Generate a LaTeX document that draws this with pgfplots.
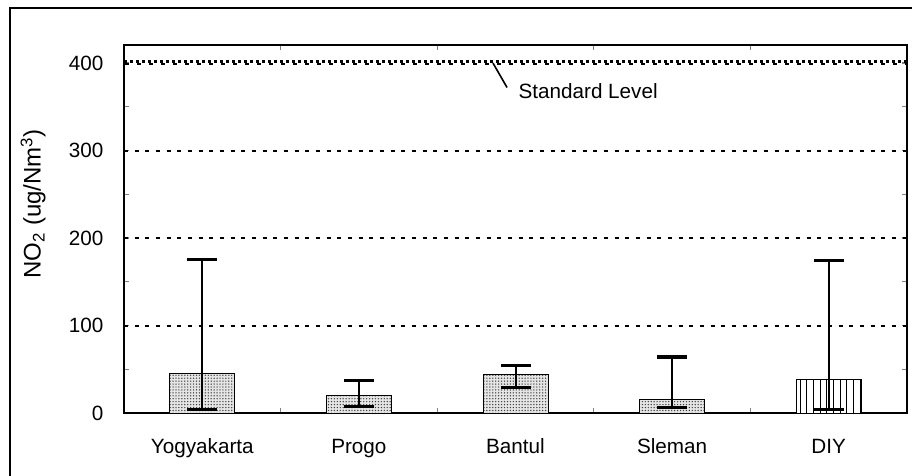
\documentclass[border=0pt]{standalone}
\usepackage{fontspec}
\setmainfont{Liberation Sans}
\usepackage{pgfplots}
\pgfplotsset{compat=1.18}
\usetikzlibrary{patterns.meta}
\begin{document}
\begin{tikzpicture}[font=\fontsize{15.5}{18}\selectfont]
\useasboundingbox (-93pt,-46.5pt) rectangle (591pt,309.75pt);
\draw[line width=1.5pt] (-85.5pt,-50pt) -- (-85.5pt,303.4pt) -- (600pt,303.4pt);
\begin{axis}[
  scale only axis,
  width=587.25pt, height=276pt,
  at={(0pt,0pt)}, anchor=south west,
  xmin=-0.5, xmax=4.5, ymin=0, ymax=420.6,
  axis line style={line width=1.3pt},
  xtick={0,1,2,3,4},
  xticklabels={Yogyakarta,Progo,Bantul,Sleman,DIY},
  major x tick style={draw=none},
  minor xtick={0.5,1.5,2.5,3.5},
  minor x tick style={line width=1pt},
  ytick={0,100,200,300,400},
  minor ytick={50,150,250,350},
  y tick style={line width=1pt},
  tick align=inside,
  major tick length=4pt, minor tick length=4pt,
  xticklabel style={anchor=base, yshift=-30pt},
  yticklabel style={anchor=east, xshift=-12pt},
  /pgf/number format/assume math mode=true,
  ylabel={NO\textsubscript{2} (ug/Nm\textsuperscript{3})},
  ylabel style={at={(axis description cs:-0.116,0.568)}, anchor=center, font=\fontsize{18}{21}\selectfont},
  clip=false,
  error bars/y dir=both,
  error bars/y explicit,
  error bars/error bar style={line width=1.5pt, black},
  error bars/error mark options={rotate=90, mark size=11.25pt, line width=2.3pt, black},
]
% grid lines
\foreach \yy in {100,200,300}{
  \edef\tmp{\noexpand\draw[line width=1.5pt, dash pattern=on 3pt off 5pt] (axis cs:-0.5,\yy) -- (axis cs:4.5,\yy);}
  \tmp
}
% standard level
\addplot[line width=1.7pt, dash pattern=on 2.5pt off 2pt, forget plot] coordinates {(-0.5,401.6) (4.5,401.6)};
\addplot[line width=1.7pt, dash pattern=on 2.5pt off 6.5pt, dash phase=-1pt, forget plot] coordinates {(-0.5,398.6) (4.5,398.6)};
\draw[line width=1.2pt] (axis cs:1.856,400) -- (axis cs:1.946,372);
\node[anchor=base west] at (axis cs:1.99,360) {Standard Level};
% bars
\addplot[ybar, bar width=48.75pt, bar shift=0pt, draw=black, line width=0.7pt,
  fill=black!10, postaction={pattern={Dots[distance=2.2pt, radius=0.55pt]}, pattern color=black!75}]
  coordinates {
    (0,45) += (0,130) -= (0,41)
    (1,20) += (0,17) -= (0,13)
    (2,44) += (0,10) -= (0,15)
    (3,16) += (0,48) -= (0,10)
  };
\addplot[ybar, bar width=48.75pt, bar shift=0pt, draw=black, line width=0.7pt,
  fill=white, postaction={pattern={Lines[angle=90, distance=5pt, line width=0.7pt]}, pattern color=black}]
  coordinates {
    (4,38.5) += (0,136) -= (0,34.5)
  };
\end{axis}
\end{tikzpicture}
\end{document}
